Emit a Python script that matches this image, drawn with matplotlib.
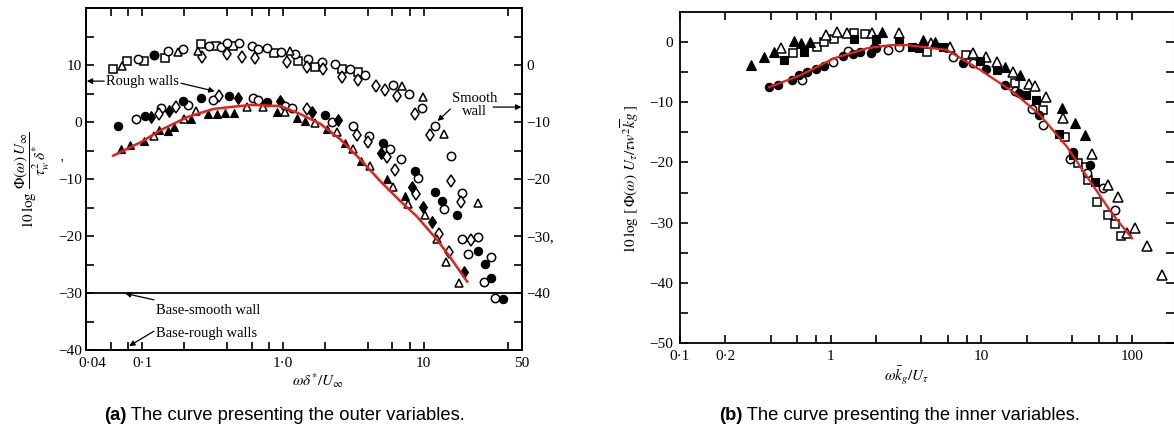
import numpy as np
import matplotlib
matplotlib.use("Agg")
import matplotlib.pyplot as plt
import matplotlib.transforms as mtransforms
from matplotlib.ticker import FixedLocator, NullFormatter

plt.rcParams['font.family'] = ['Liberation Serif', 'DejaVu Serif']
plt.rcParams['mathtext.fontset'] = 'stix'

# ---------------- Panel (a): outer variables ----------------
a_sq_open_x = [0.0624, 0.0783, 0.1033, 0.1455, 0.261, 0.333, 0.440, 0.871, 1.287, 1.697, 2.634, 3.418]
a_sq_open_y = [9.27, 10.66, 10.66, 11.19, 13.64, 13.29, 13.29, 12.06, 10.66, 9.62, 9.27, 8.74]

a_ci_open_x = [0.0937, 0.1216, 0.1528, 0.195, 0.297, 0.362, 0.399, 0.485, 0.609, 0.671, 0.777, 0.977,
               1.225, 1.514, 1.902, 2.35, 3.0, 3.83, 6.04, 7.83, 9.68, 11.97, 15.78, 18.87, 18.87,
               24.48, 20.8, 30.24, 26.98, 32.27,
               0.0907, 0.136, 0.2114, 0.3175, 0.619, 0.671, 1.041, 1.167, 2.237, 3.148, 4.086,
               5.75, 6.88, 9.07, 14.07]
a_ci_open_y = [11.01, 11.71, 12.41, 12.76, 13.29, 13.11, 13.81, 13.81, 13.29, 12.76, 12.94, 12.24,
               11.89, 11.01, 10.49, 10.14, 9.27, 8.22, 6.47, 4.90, 2.45, -0.70, -5.94, -12.41, -20.45,
               -20.10, -23.08, -23.60, -28.15, -30.94,
               0.52, 2.45, 2.97, 3.85, 4.20, 3.85, 2.80, 2.45, 0.0, -0.70, -2.45,
               -4.72, -6.47, -9.79, -15.21]

a_di_open_x = [0.2655, 0.399, 0.509, 0.639, 1.076, 1.489, 1.932, 2.634, 3.418, 4.58, 5.30, 6.44, 8.63,
               11.02, 15.64, 18.41, 21.84,
               0.1318, 0.1738, 0.350, 1.489, 3.362, 4.02, 5.48, 6.24, 8.77, 12.77, 15.03]
a_di_open_y = [11.36, 11.89, 11.36, 11.19, 10.49, 9.62, 9.27, 7.87, 7.34, 6.29, 5.59, 4.55, 1.40,
               -2.27, -10.31, -13.99, -20.63,
               1.40, 2.62, 4.55, 2.27, -2.27, -3.50, -6.12, -8.39, -12.59, -19.58, -22.73]

a_ci_fill_x = [0.1216, 0.0677, 0.105, 0.195, 0.261, 0.412, 0.777, 1.997, 5.13, 8.63, 11.97, 13.62,
               17.39, 24.48, 27.43, 30.24, 36.76]
a_ci_fill_y = [11.71, -0.70, 1.05, 3.67, 4.20, 4.55, 3.50, 1.22, -3.67, -8.57, -12.24, -13.81,
               -16.26, -22.55, -24.83, -27.45, -31.12]

a_di_fill_x = [0.1158, 0.155, 0.477, 0.960, 1.616, 2.467, 4.97, 8.23, 9.84, 11.39, 19.49]
a_di_fill_y = [0.87, 1.92, 4.20, 3.67, 1.75, 0.35, -5.42, -11.36, -14.86, -17.48, -26.40]

a_tr_open_x = [0.0722, 0.1797, 0.249, 1.130, 6.99, 9.84, 14.07, 24.48,
               0.1216, 0.198, 0.241, 0.561, 0.728, 1.041, 1.697, 2.427, 3.148, 4.15, 6.04, 7.70,
               10.17, 12.36, 14.54, 17.97]
a_tr_open_y = [9.79, 12.24, 12.41, 12.41, 6.29, 4.37, -2.10, -14.16,
               -2.45, 0.52, 1.92, 2.62, 2.62, 1.75, -0.17, -1.75, -4.72, -7.69, -11.36, -14.34,
               -16.4, -20.45, -24.48, -28.32]

a_tr_fill_x = [0.0711, 0.0823, 0.1033, 0.1318, 0.1528, 0.1683, 0.222, 0.2926, 0.339, 0.386, 0.447,
               0.914, 1.266, 1.442, 2.063, 2.765, 3.588, 5.48, 7.34]
a_tr_fill_y = [-4.72, -4.02, -3.32, -1.40, -1.57, -0.87, 0.52, 1.40, 1.40, 1.57, 1.57,
               1.75, 0.70, 0.17, -1.22, -3.67, -6.82, -9.97, -12.94]

a_curve_x = [0.0624, 0.0987, 0.136, 0.211, 0.322, 0.589, 0.96, 1.33, 1.84, 2.55, 3.53, 4.89, 6.77,
             8.9, 12.3, 15.3, 20.4]
a_curve_y = [-5.9, -3.5, -1.4, 0.9, 2.3, 3.0, 2.8, 1.4, -0.3, -3.0, -6.5, -10.3, -13.8,
             -16.5, -20.5, -23.6, -28.0]

a_base_smooth = -30
a_xticks = [0.04, 0.1, 1.0, 10, 50]
a_xticklabels = ['0·04', '0·1', '1·0', '10', '50']
a_xminor = [0.06, 0.08, 0.2, 0.4, 0.6, 0.8, 2, 4, 6, 8, 40]
a_yticks = [10, 0, -10, -20, -30, -40]
a_yticklabels = ['10', '0', '−10', '−20', '−30', '−40']
a_rticks = [10, 0, -10, -20, -30]
a_rticklabels = ['0', '−10', '−20', '−30,', '−40']

# ---------------- Panel (b): inner variables ----------------
b_tr_fill_x = [0.295, 0.36, 0.42, 0.569, 0.633, 0.726, 2.2, 4.1, 4.95, 14.4, 18.1, 34.3, 41.9, 48.8]
b_tr_fill_y = [-3.8, -2.5, -1.6, 0.17, -0.17, 0.0, 1.7, 0.3, 0.0, -4.1, -5.5, -11.0, -13.5, -15.5]

b_tr_open_x = [0.47, 0.93, 1.11, 1.28, 1.87, 2.82, 4.6, 6.2, 8.8, 10.8, 12.7, 16.3, 20.8, 22.7, 27.0,
               34.9, 54.3, 69, 81, 92.5, 104.7, 126, 158]
b_tr_open_y = [-1.0, 1.1, 1.7, 1.5, 1.5, 1.5, -0.2, -0.8, -1.8, -2.5, -3.3, -5.0, -6.9, -7.3, -9.2,
               -12.6, -18.6, -23.8, -25.8, -31.7, -30.9, -33.9, -38.7]

b_sq_fill_x = [0.49, 0.67, 1.42, 1.99, 2.82, 3.49, 3.88, 5.6, 9.8, 12.7, 19.8, 23.1, 32.8, 40.6, 56.9]
b_sq_fill_y = [-2.9, -1.6, 0.5, 0.5, 0.2, -0.8, -1.0, -0.8, -3.1, -4.6, -8.8, -9.6, -15.2, -18.7, -23.2]

b_sq_open_x = [0.56, 0.81, 0.91, 1.05, 1.42, 1.7, 4.38, 7.9, 16.7, 25.7, 36.0, 43.9, 49.5, 51.2, 58.6,
               69, 77, 85]
b_sq_open_y = [-1.8, -0.8, 0.0, 0.5, 1.5, 1.3, -1.6, -2.2, -6.8, -11.3, -15.8, -20.1, -20.8, -22.9,
               -26.6, -28.7, -30.2, -32.2]

b_ci_fill_x = [0.39, 0.45, 0.55, 0.62, 0.70, 0.80, 0.90, 1.2, 1.4, 1.56, 1.84, 1.99, 7.6, 10.8, 14.4,
               17.8, 24.2, 40.6, 52.6]
b_ci_fill_y = [-7.5, -7.1, -6.3, -5.5, -4.9, -4.4, -3.9, -2.3, -2.0, -1.6, -1.8, -1.0, -3.4, -4.4, -7.1,
               -8.5, -12.1, -18.2, -20.4]

b_ci_open_x = [0.65, 1.03, 1.30, 1.93, 2.42, 2.82, 6.5, 8.8, 16.7, 21.7, 25.7, 38.8, 50.4, 64.3, 77]
b_ci_open_y = [-6.3, -3.3, -1.4, -1.0, -1.3, -0.8, -2.5, -3.5, -8.1, -11.2, -13.8, -19.5, -21.7,
               -24.3, -27.9]

b_curve_x = [0.39, 0.63, 1.05, 1.76, 2.5, 3.2, 5.9, 9.8, 16.3, 24.5, 37, 50.4, 74.7, 100]
b_curve_y = [-7.5, -5.5, -2.7, -1.0, -0.5, -0.5, -1.3, -4.6, -8.3, -12.1, -17.4, -22.4, -28.7, -32.6]

b_xticks = [0.1, 0.2, 1, 10, 100]
b_xticklabels = ['0·1', '0·2', '1', '10', '100']
b_xminor = [0.4, 0.6, 0.8, 2, 4, 6, 8, 20, 40, 60, 80]
b_yticks = [0, -10, -20, -30, -40, -50]
b_yticklabels = ['0', '−10', '−20', '−30', '−40', '−50']

captions = ['(a)', ' The curve presenting the outer variables.',
            '(b)', ' The curve presenting the inner variables.']

# ---------------- Figure ----------------
W, H = 1174, 429
fig = plt.figure(figsize=(W / 100, H / 100), dpi=100)


def fx(px):
    return px / W


def fy(py):
    return 1 - py / H


RED = '#e8201c'
TICKFS = 11

open_kw = dict(linestyle='none', markerfacecolor='white', markeredgecolor='black', markeredgewidth=1.1)
fill_kw = dict(linestyle='none', markerfacecolor='black', markeredgecolor='black', markeredgewidth=0.8)


def style_axes(ax):
    for s in ax.spines.values():
        s.set_linewidth(1.3)
    ax.tick_params(which='both', direction='in', length=6, width=1.2, labelsize=TICKFS,
                   top=True, right=True, pad=3)
    ax.tick_params(axis='x', which='both', pad=5)


# Panel (a)
axa = fig.add_axes([fx(86), fy(350), fx(522 - 86), (350 - 8) / H])
axa.set_xscale('log')
axa.set_xlim(0.04, 50)
axa.set_ylim(-40, 20)
axa.axhline(a_base_smooth, color='black', lw=1.3, zorder=1)
axa.plot(a_curve_x, a_curve_y, color=RED, lw=1.8, zorder=5)
axa.plot(a_sq_open_x, a_sq_open_y, marker='s', ms=5.4, **open_kw, zorder=3)
axa.plot(a_ci_open_x, a_ci_open_y, marker='o', ms=6.0, **open_kw, zorder=3)
axa.plot(a_di_open_x, a_di_open_y, marker='d', ms=6.4, **open_kw, zorder=3)
axa.plot(a_tr_open_x, a_tr_open_y, marker='^', ms=6.4, **open_kw, zorder=3)
axa.plot(a_ci_fill_x, a_ci_fill_y, marker='o', ms=6.0, **fill_kw, zorder=4)
axa.plot(a_di_fill_x, a_di_fill_y, marker='d', ms=6.4, **fill_kw, zorder=4)
axa.plot(a_tr_fill_x, a_tr_fill_y, marker='^', ms=6.4, **fill_kw, zorder=4)

style_axes(axa)
axa.xaxis.set_major_locator(FixedLocator(a_xticks))
axa.set_xticklabels(a_xticklabels)
axa.xaxis.set_minor_locator(FixedLocator(a_xminor))
axa.xaxis.set_minor_formatter(NullFormatter())
axa.yaxis.set_major_locator(FixedLocator(a_yticks))
axa.set_yticklabels(a_yticklabels)
axa.yaxis.set_minor_locator(FixedLocator([15, 5, -5, -15, -25, -35]))

# shift the first x label ("0·04") right so it clears "−40"
first = axa.get_xticklabels()[0]
first.set_transform(first.get_transform() + mtransforms.ScaledTranslation(6 / 100, 0, fig.dpi_scale_trans))

# right-hand scale of panel (a)
axr = axa.twinx()
axr.set_ylim(axa.get_ylim())
axr.yaxis.set_major_locator(FixedLocator(a_rticks))
axr.set_yticklabels(a_rticklabels)
axr.yaxis.set_minor_locator(FixedLocator([15, 5, -5, -15, -25, -35]))
axr.tick_params(which='both', direction='in', length=6, width=1.2, labelsize=TICKFS, pad=3)
axa.tick_params(axis='y', which='both', right=False)
for s in axr.spines.values():
    s.set_linewidth(1.3)

arrow = dict(arrowstyle='-|>', lw=0.9, color='black', mutation_scale=8, shrinkA=0, shrinkB=0)
ANNFS = 10.5
axa.text(0.0557, 7.17, 'Rough walls', fontsize=ANNFS, ha='left', va='center')
axa.annotate('', xy=(0.0405, 7.17), xytext=(0.0539, 7.17), arrowprops=arrow, annotation_clip=False)
axa.annotate('', xy=(0.328, 5.4), xytext=(0.189, 6.8), arrowprops=arrow)
axa.text(22.9, 2.97, 'Smooth\nwall', fontsize=ANNFS, ha='center', va='center', linespacing=1.05)
axa.annotate('', xy=(49.5, 2.62), xytext=(31.2, 2.62), arrowprops=arrow, annotation_clip=False)
axa.annotate('', xy=(12.56, 0.17), xytext=(15.5, 2.27), arrowprops=arrow)
axa.text(0.1256, -33.04, 'Base-smooth wall', fontsize=ANNFS, ha='left', va='center')
axa.annotate('', xy=(0.0758, -30.07), xytext=(0.1216, -31.2), arrowprops=arrow)
axa.text(0.1256, -37.06, 'Base-rough walls', fontsize=ANNFS, ha='left', va='center')
axa.annotate('', xy=(0.081, -39.3), xytext=(0.1216, -36.7), arrowprops=arrow)

fig.text(fx(318), fy(381), r'$\omega\delta^{*}/U_{\infty}$', fontsize=11, ha='center', va='center')
fig.text(fx(32), fy(180), r'$10\,\log\,\dfrac{\Phi(\omega)\,U_{\infty}}{\tau_w^{2}\,\delta^{*}}$',
         fontsize=11, rotation=90, ha='center', va='center')
fig.text(fx(62), fy(165), "'", fontsize=10, ha='center', va='center')

# Panel (b)
axb = fig.add_axes([fx(680), fy(343), fx(W - 680), (343 - 12) / H])
axb.set_xscale('log')
axb.set_xlim(0.1, 190)
axb.set_ylim(-50, 5)
axb.plot(b_curve_x, b_curve_y, color=RED, lw=1.6, zorder=5)
axb.plot(b_sq_open_x, b_sq_open_y, marker='s', ms=5.6, **open_kw, zorder=3)
axb.plot(b_ci_open_x, b_ci_open_y, marker='o', ms=6.0, **open_kw, zorder=3)
axb.plot(b_tr_open_x, b_tr_open_y, marker='^', ms=6.6, **open_kw, zorder=3)
axb.plot(b_sq_fill_x, b_sq_fill_y, marker='s', ms=5.6, **fill_kw, zorder=4)
axb.plot(b_ci_fill_x, b_ci_fill_y, marker='o', ms=6.0, **fill_kw, zorder=4)
axb.plot(b_tr_fill_x, b_tr_fill_y, marker='^', ms=6.6, **fill_kw, zorder=4)

style_axes(axb)
axb.xaxis.set_major_locator(FixedLocator(b_xticks))
axb.set_xticklabels(b_xticklabels)
axb.xaxis.set_minor_locator(FixedLocator(b_xminor))
axb.xaxis.set_minor_formatter(NullFormatter())
axb.yaxis.set_major_locator(FixedLocator(b_yticks))
axb.set_yticklabels(b_yticklabels)
axb.yaxis.set_minor_locator(FixedLocator([-5, -15, -25, -35, -45]))
axb.tick_params(axis='y', which='both', pad=5)
axb.spines['right'].set_linewidth(0.8)
axb.spines['right'].set_color('#999999')

fig.text(fx(907), fy(376), r'$\omega\bar{k}_g/U_\tau$', fontsize=11, ha='center', va='center')
fig.text(fx(630), fy(180), r'$10\,\log\,[\,\Phi(\omega)\ U_\tau/\tau w^{2}\overline{k}g\,]$',
         fontsize=11, rotation=90, ha='center', va='center')

# Captions
CAPFS = 13.2
for cx, lab, rest in [(284.5, captions[0], captions[1]), (899.5, captions[2], captions[3])]:
    t1 = fig.text(0, 0, lab, fontsize=CAPFS, family='Liberation Sans', weight='bold')
    t2 = fig.text(0, 0, rest, fontsize=CAPFS, family='Liberation Sans')
    fig.canvas.draw()
    r = fig.canvas.get_renderer()
    w1 = t1.get_window_extent(r).width
    w2 = t2.get_window_extent(r).width
    x0 = cx - (w1 + w2) / 2
    t1.set_position((fx(x0), fy(415)))
    t2.set_position((fx(x0 + w1), fy(415)))
    t1.set_va('center')
    t2.set_va('center')

fig.savefig('out.png', dpi=100)
